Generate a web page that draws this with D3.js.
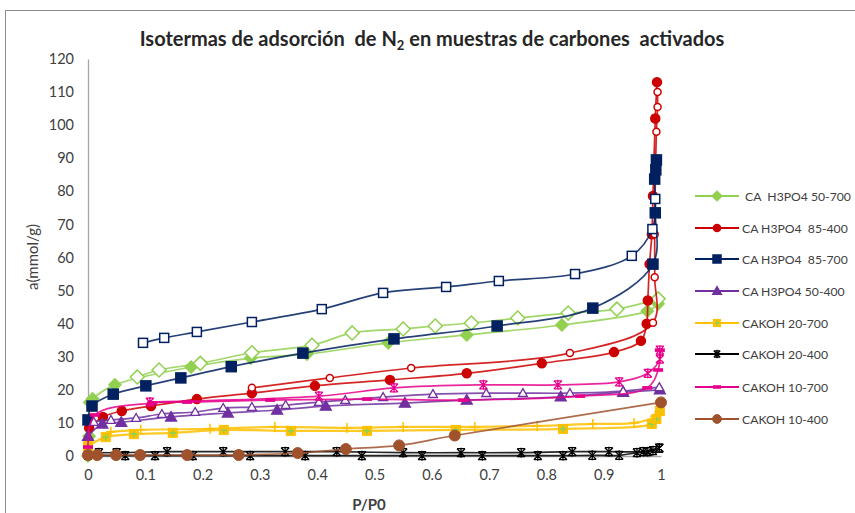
<!DOCTYPE html>
<html><head><meta charset="utf-8">
<script src="https://cdn.jsdelivr.net/npm/d3@7"></script>
<style>
body{margin:0;background:#fff;}
svg text{font-family:Lato,"Open Sans",sans-serif;white-space:pre;}
</style></head>
<body>
<script>
// ---- data ----
const xTicks = [0,0.1,0.2,0.3,0.4,0.5,0.6,0.7,0.8,0.9,1];
const yTicks = [0,10,20,30,40,50,60,70,80,90,100,110,120];
const seriesNames = [" CA  H3PO4 50-700","CA H3PO4  85-400","CA H3PO4  85-700","CA H3PO4 50-400","CAKOH 20-700","CAKOH 20-400","CAKOH 10-700","CAKOH 10-400"];

const g57Ads = [[0,0],[0.002,6],[0.003,16.2],[0.008,17.3],[0.047,21.5],[0.18,26.9],[0.284,29.6],[0.382,30.8],[0.524,34.2],[0.661,36.6],[0.827,39.6],[0.976,43.8],[0.995,46]];
const g57Des = [[0.995,47.5],[0.923,44.4],[0.838,43.2],[0.75,41.7],[0.669,40.2],[0.606,39.3],[0.55,38.4],[0.461,37.2],[0.391,33.5],[0.286,31.2],[0.196,28],[0.124,26],[0.086,23.9]];
const r84Ads = [[0.002,8.5],[0.026,11.8],[0.059,13.6],[0.11,15.1],[0.19,17.2],[0.286,19],[0.396,21.2],[0.527,23],[0.661,25],[0.792,28],[0.918,31.4],[0.965,34.8],[0.975,40],[0.977,47],[0.98,58],[0.984,67],[0.986,78.6],[0.99,102],[0.993,113]];
const r84Des = [[0.994,110],[0.994,105.5],[0.992,98],[0.989,67],[0.989,54],[0.986,40.3],[0.841,31.1],[0.564,26.6],[0.422,23.6],[0.286,20.6]];
const n87Ads = [[0,10.9],[0.007,15.1],[0.044,18.7],[0.101,21.2],[0.162,23.6],[0.25,27],[0.375,31.1],[0.534,35.4],[0.714,39.3],[0.881,44.7],[0.986,58],[0.99,73.5],[0.989,83.7],[0.991,86.5],[0.992,89.5]];
const n87Des = [[0.99,77.7],[0.985,68.6],[0.949,60.5],[0.85,55],[0.717,52.9],[0.625,51.1],[0.515,49.3],[0.408,44.4],[0.286,40.5],[0.19,37.5],[0.133,35.7],[0.096,34.2]];
const p54Ads = [[0,6],[0.025,9.7],[0.058,10.2],[0.145,11.8],[0.244,13],[0.33,13.9],[0.415,15.1],[0.553,16],[0.661,16.9],[0.825,17.9],[0.934,19.3],[0.998,20]];
const p54Des = [[0.997,20.8],[0.934,19.6],[0.841,19],[0.759,19],[0.695,19],[0.602,18.7],[0.515,17.8],[0.449,16.9],[0.403,16.3],[0.345,15.4],[0.286,14.8],[0.236,14.5],[0.187,13.3],[0.129,12.7],[0.084,11.5],[0.04,10.9],[0.01,10.3]];
const y27Ads = [[0,3],[0.031,5.7],[0.08,6.6],[0.148,7],[0.237,7.9],[0.354,7.6],[0.487,7.6],[0.642,7.9],[0.829,8.2],[0.984,9.7],[0.992,11.2],[0.998,13.6]];
const y27Des = [[0.998,13.6],[0.99,12],[0.953,10],[0.881,9.7],[0.784,9.1],[0.675,8.8],[0.55,8.8],[0.452,8.5],[0.326,8.8],[0.213,8.2],[0.092,7.9],[0.04,7.3]];
const k24Ads = [[0,0.2],[0.065,0.1],[0.117,0.1],[0.183,0.1],[0.283,0.1],[0.379,0.1],[0.478,0.1],[0.583,0.1],[0.688,0.1],[0.785,0.1],[0.829,0.1],[0.88,0.2],[0.927,0.2],[0.958,1],[0.977,1.3],[0.997,2.4]];
const k24Des = [[0.997,2.4],[0.986,1.6],[0.969,1.3],[0.909,1.3],[0.845,1.3],[0.756,1],[0.651,1],[0.55,1],[0.434,1.3],[0.344,1.3],[0.236,1.3],[0.138,1.3],[0.05,1],[0.019,1]];
const m17Ads = [[0,2.7],[0.012,12.4],[0.112,16],[0.173,16.3],[0.318,16.9],[0.487,17.2],[0.654,16.9],[0.859,18.1],[0.976,20.6],[0.995,26],[0.998,32]];
const m17Des = [[0.998,32],[0.998,29.3],[0.977,25],[0.927,22.4],[0.82,21.5],[0.69,21.5],[0.534,20.6],[0.403,18.1],[0.108,16.3]];
const b14Ads = [[0,0.3],[0.016,0.3],[0.049,0.3],[0.091,0.3],[0.173,0.3],[0.263,0.3],[0.366,0.9],[0.45,2.1],[0.543,3.2],[0.64,6.2],[1.0,16.2]];

const colors = ["#92D050","#CC0000","#002060","#7030A0","#FFC000","#000000","#E6008C","#A0522D"];
const branches = [
  {s:0, d:g57Ads, m:"diamond", fill:true},
  {s:0, d:g57Des, m:"diamond", fill:false},
  {s:1, d:r84Ads, m:"circle", fill:true},
  {s:1, d:r84Des, m:"circle", fill:false},
  {s:2, d:n87Ads, m:"square", fill:true},
  {s:2, d:n87Des, m:"square", fill:false},
  {s:3, d:p54Ads, m:"triangle", fill:true},
  {s:3, d:p54Des, m:"triangle", fill:false},
  {s:4, d:y27Ads, m:"squareplus", fill:true},
  {s:4, d:y27Des, m:"plus", fill:false},
  {s:5, d:k24Ads, m:"asterisk", fill:true},
  {s:5, d:k24Des, m:"asterisk", fill:false},
  {s:6, d:m17Ads, m:"dash", fill:true},
  {s:6, d:m17Des, m:"asterisk", fill:false},
  {s:7, d:b14Ads, m:"bigcircle", fill:true}
];
const legendMarkers = ["diamond","circle","square","triangle","squareplus","asterisk","dash","bigcircle"];

// ---- chart ----
const W=855,H=513;
const svg=d3.select("body").append("svg").attr("width",W).attr("height",H);
svg.append("rect").attr("x",5.5).attr("y",10.5).attr("width",870).attr("height",520)
  .attr("fill","#fff").attr("stroke","#8c8c8c").attr("stroke-width",1);

const x=d3.scaleLinear().domain([0,1]).range([88,661]);
const y=d3.scaleLinear().domain([0,120]).range([456,59]);

// title
const t=svg.append("text").attr("x",432).attr("y",46).attr("text-anchor","middle")
  .attr("font-size",20).attr("font-weight","bold").attr("fill","#262626");
t.append("tspan").text("Isotermas de adsorción  de N");
t.append("tspan").text("2").attr("font-size",13).attr("dy",4);
t.append("tspan").text(" en muestras de carbones  activados").attr("dy",-4);

// axes
const ya=svg.append("g").attr("transform","translate(88,0)")
  .call(d3.axisLeft(y).tickValues(yTicks).tickSize(0).tickPadding(14));
const xa=svg.append("g").attr("transform","translate(0,456)")
  .call(d3.axisBottom(x).tickValues(xTicks).tickSize(0).tickPadding(14).tickFormat(d3.format("")));
[ya,xa].forEach(a=>{
  a.select(".domain").attr("stroke","#a6a6a6").attr("stroke-width",1.3);
  a.selectAll("text").attr("font-family","Lato,sans-serif").attr("font-size",14.5).attr("fill","#404040");
});
svg.append("text").attr("x",369).attr("y",510).attr("text-anchor","middle")
  .attr("font-size",15).attr("font-weight","bold").attr("fill","#404040").text("P/P0");
svg.append("text").attr("transform","translate(38,257) rotate(-90)").attr("text-anchor","middle")
  .attr("font-size",15).attr("fill","#404040").text("a(mmol/g)");

// marker drawing
function drawMarker(g,type,cx,cy,col,filled,scale){
  scale=scale||1;
  const f=filled?col:"#fff";
  if(type==="diamond"){
    const r=(filled?6:7)*scale;
    g.append("path").attr("d",`M${cx},${cy-r}L${cx+r},${cy}L${cx},${cy+r}L${cx-r},${cy}Z`)
      .attr("fill",f).attr("stroke",col).attr("stroke-width",1.5);
  } else if(type==="circle"){
    g.append("circle").attr("cx",cx).attr("cy",cy).attr("r",(filled?4.5:3.5)*scale)
      .attr("fill",f).attr("stroke",col).attr("stroke-width",1.5);
  } else if(type==="bigcircle"){
    g.append("circle").attr("cx",cx).attr("cy",cy).attr("r",5.5*scale)
      .attr("fill",col).attr("stroke",col).attr("stroke-width",1);
  } else if(type==="square"){
    const r=(filled?5:4.5)*scale;
    g.append("rect").attr("x",cx-r).attr("y",cy-r).attr("width",2*r).attr("height",2*r)
      .attr("fill",f).attr("stroke",col).attr("stroke-width",1.5);
  } else if(type==="squareplus"){
    const r=4.5*scale;
    g.append("rect").attr("x",cx-r).attr("y",cy-r).attr("width",2*r).attr("height",2*r)
      .attr("fill",col).attr("stroke",col).attr("stroke-width",1);
    g.append("path").attr("d",`M${cx-r+1},${cy}H${cx+r-1}M${cx},${cy-r+1}V${cy+r-1}`)
      .attr("stroke","#92D050").attr("stroke-width",1.6);
  } else if(type==="triangle"){
    const r=(filled?5.5:4.5)*scale;
    g.append("path").attr("d",`M${cx},${cy-r}L${cx+r},${cy+r*0.75}L${cx-r},${cy+r*0.75}Z`)
      .attr("fill",f).attr("stroke",col).attr("stroke-width",1.3);
  } else if(type==="plus"){
    const r=5*scale;
    g.append("path").attr("d",`M${cx-r},${cy}H${cx+r}M${cx},${cy-r}V${cy+r}`)
      .attr("stroke",col).attr("stroke-width",1.5);
  } else if(type==="dash"){
    const r=5*scale;
    g.append("rect").attr("x",cx-r).attr("y",cy-1.8).attr("width",2*r).attr("height",3.6)
      .attr("fill",col);
  } else if(type==="asterisk"){
    const r=4*scale;
    g.append("path").attr("d",`M${cx-r},${cy-r}L${cx+r},${cy+r}M${cx+r},${cy-r}L${cx-r},${cy+r}M${cx},${cy-r-1}V${cy+r+1}M${cx-r},${cy-r}H${cx+r}M${cx-r},${cy+r}H${cx+r}`)
      .attr("stroke",col).attr("stroke-width",1.3).attr("fill","none");
  }
}

const line=d3.line().x(d=>x(d[0])).y(d=>y(d[1])).curve(d3.curveCatmullRom.alpha(0.5));
const plot=svg.append("g");
branches.forEach(b=>{
  const col=colors[b.s];
  plot.append("path").attr("d",line(b.d)).attr("fill","none").attr("stroke",col)
    .attr("stroke-width",b.s===4?2.2:1.7).attr("stroke-opacity",0.85);
  const mg=plot.append("g");
  b.d.forEach(p=>drawMarker(mg,b.m,x(p[0]),y(p[1]),col,b.fill));
});

// legend
const lg=svg.append("g");
const legY=[196,228,259,291,323,354,387,419];
seriesNames.forEach((n,i)=>{
  lg.append("line").attr("x1",695).attr("x2",739).attr("y1",legY[i]).attr("y2",legY[i])
    .attr("stroke",colors[i]).attr("stroke-width",2);
  drawMarker(lg,legendMarkers[i],717,legY[i],colors[i],true,0.8);
  lg.append("text").attr("x",742).attr("y",legY[i]+4.5).attr("font-size",12.2)
    .attr("fill","#404040").text(n);
});
</script>
</body></html>
